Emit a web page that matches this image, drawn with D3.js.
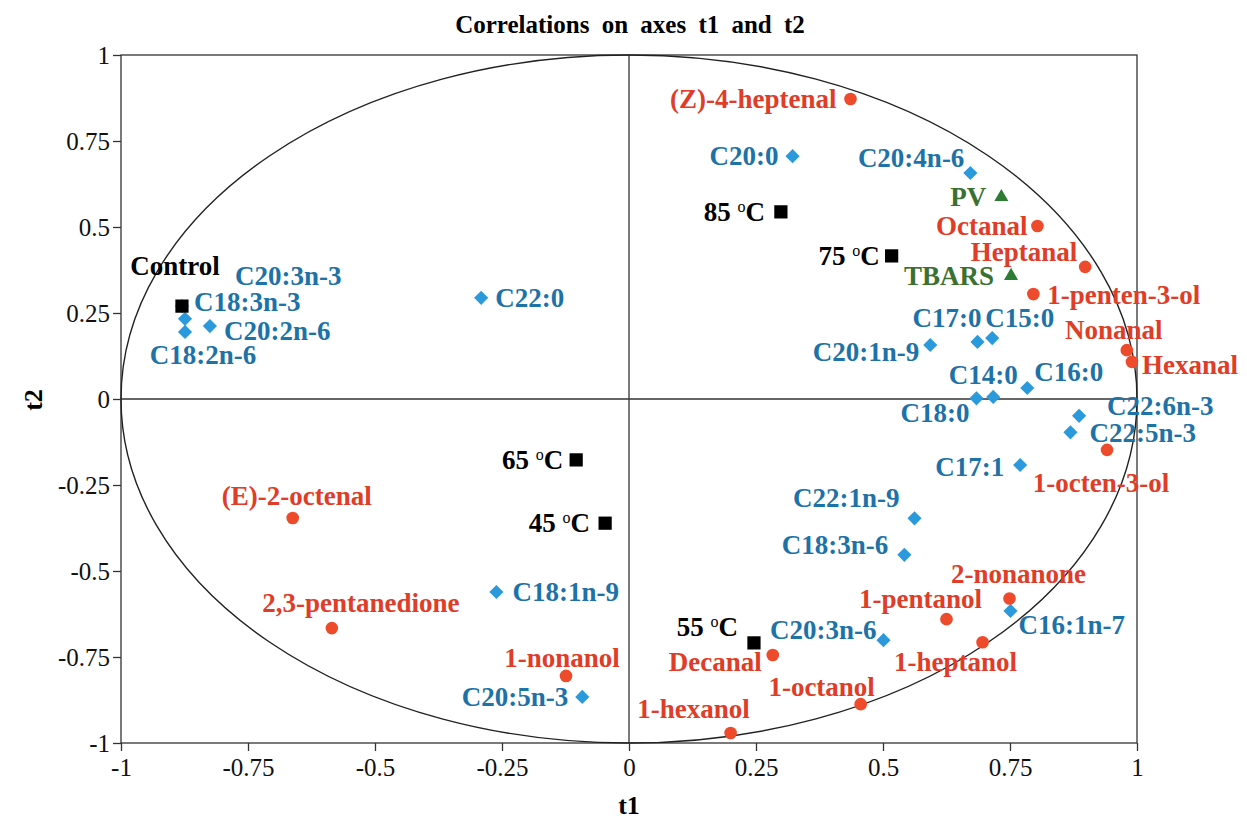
<!DOCTYPE html>
<html>
<head>
<meta charset="utf-8">
<script src="https://cdn.jsdelivr.net/npm/d3@7"></script>
<style>
  body { margin: 0; background: #fff; }
  svg { display: block; font-family: "Liberation Serif", "Times New Roman", serif; }
</style>
</head>
<body>
<svg id="chart" width="1247" height="823"></svg>
<script>
// fatty acids (blue diamonds)
const acidNames = ["C20:0", "C20:4n-6", "C22:0", "C20:3n-3", "C18:3n-3", "C18:2n-6", "C20:2n-6",
  "C17:0", "C15:0", "C20:1n-9", "C16:0", "C14:0", "C18:0", "C22:6n-3", "C22:5n-3", "C17:1",
  "C22:1n-9", "C18:3n-6", "C16:1n-7", "C20:3n-6", "C18:1n-9", "C20:5n-3"];
const acidT1 = [0.322, 0.672, -0.291, -0.880, -0.874, -0.874, -0.825,
  0.686, 0.715, 0.593, 0.784, 0.717, 0.684, 0.886, 0.869, 0.770,
  0.562, 0.542, 0.751, 0.501, -0.261, -0.092];
const acidT2 = [0.706, 0.657, 0.294, 0.270, 0.233, 0.195, 0.212,
  0.166, 0.177, 0.157, 0.032, 0.006, 0.002, -0.049, -0.097, -0.192,
  -0.347, -0.453, -0.616, -0.701, -0.561, -0.866];

// volatile compounds (red circles)
const volNames = ["(Z)-4-heptenal", "Octanal", "Heptanal", "1-penten-3-ol", "Nonanal", "Hexanal",
  "1-octen-3-ol", "2-nonanone", "1-pentanol", "1-heptanol", "Decanal", "1-octanol", "1-hexanol",
  "(E)-2-octenal", "2,3-pentanedione", "1-nonanol"];
const volT1 = [0.436, 0.804, 0.898, 0.796, 0.980, 0.990,
  0.941, 0.749, 0.625, 0.696, 0.283, 0.456, 0.200,
  -0.662, -0.585, -0.124];
const volT2 = [0.872, 0.503, 0.384, 0.305, 0.142, 0.108,
  -0.148, -0.580, -0.640, -0.707, -0.744, -0.887, -0.971,
  -0.346, -0.666, -0.805];

// oxidation indices (green triangles)
const oxNames = ["PV", "TBARS"];
const oxT1 = [0.733, 0.752];
const oxT2 = [0.587, 0.358];

// treatments (black squares)
const trtNames = ["Control", "85", "75", "65", "45", "55"];
const trtT1 = [-0.880, 0.299, 0.517, -0.104, -0.047, 0.246];
const trtT2 = [0.270, 0.544, 0.416, -0.177, -0.361, -0.709];

const tickValues = [-1, -0.75, -0.5, -0.25, 0, 0.25, 0.5, 0.75, 1];

// label placement relative to the marker: [dx, dy, anchor]
const labelPos = {
  "C20:0": [-14, 0, "end"], "C20:4n-6": [-6, -15, "end"], "C22:0": [14, 0, "start"],
  "C20:3n-3": [53, -30, "start"], "C18:3n-3": [9, -17, "start"], "C18:2n-6": [18, 23, "middle"],
  "C20:2n-6": [14, 5, "start"], "C17:0": [4, -24, "end"], "C15:0": [-7, -20, "start"],
  "C20:1n-9": [-11, 7, "end"], "C16:0": [7, -16, "start"], "C14:0": [-10, -22, "middle"],
  "C18:0": [-7, 15, "end"], "C22:6n-3": [28, -10, "start"], "C22:5n-3": [19, 1, "start"],
  "C17:1": [-16, 2, "end"], "C22:1n-9": [-15, -20, "end"], "C18:3n-6": [-16, -10, "end"],
  "C16:1n-7": [8, 14, "start"], "C20:3n-6": [-7, -10, "end"], "C18:1n-9": [16, 0, "start"],
  "C20:5n-3": [-14, 0, "end"],
  "(Z)-4-heptenal": [-14, 0, "end"], "Octanal": [-10, 0, "end"], "Heptanal": [-8, -15, "end"],
  "1-penten-3-ol": [14, 1, "start"], "Nonanal": [-13, -20, "middle"], "Hexanal": [10, 3, "start"],
  "1-octen-3-ol": [-6, 33, "middle"], "2-nonanone": [9, -25, "middle"], "1-pentanol": [-26, -20, "middle"],
  "1-heptanol": [-27, 20, "middle"], "Decanal": [-11, 7, "end"], "1-octanol": [-39, -17, "middle"],
  "1-hexanol": [-37, -24, "middle"], "(E)-2-octenal": [4, -22, "middle"],
  "2,3-pentanedione": [29, -25, "middle"], "1-nonanol": [-4, -18, "middle"],
  "PV": [-15, 0, "end"], "TBARS": [-17, 0, "end"],
  "Control": [-7, -40, "middle"], "85": [-16, 0, "end"], "75": [-12, 0, "end"],
  "65": [-13, 0, "end"], "45": [-15, 0, "end"], "55": [-16, -16, "end"]
};

const svg = d3.select("#chart");
const x = d3.scaleLinear().domain([-1, 1]).range([121, 1137]);
const y = d3.scaleLinear().domain([-1, 1]).range([743, 55]);

// title
svg.append("text")
  .attr("x", 630).attr("y", 33)
  .attr("text-anchor", "middle")
  .attr("font-size", 25).attr("font-weight", "bold")
  .attr("word-spacing", 6)
  .text("Correlations on axes t1 and t2");

// frame
svg.append("rect")
  .attr("x", x(-1)).attr("y", y(1))
  .attr("width", x(1) - x(-1)).attr("height", y(-1) - y(1))
  .attr("fill", "none").attr("stroke", "#333").attr("stroke-width", 1.3);

// zero lines
svg.append("line").attr("x1", x(0)).attr("x2", x(0)).attr("y1", y(1)).attr("y2", y(-1))
  .attr("stroke", "#333").attr("stroke-width", 1.3);
svg.append("line").attr("x1", x(-1)).attr("x2", x(1)).attr("y1", y(0)).attr("y2", y(0))
  .attr("stroke", "#333").attr("stroke-width", 1.3);

// unit circle of correlations
svg.append("ellipse")
  .attr("cx", x(0)).attr("cy", y(0))
  .attr("rx", x(1) - x(0)).attr("ry", y(0) - y(1))
  .attr("fill", "none").attr("stroke", "#222").attr("stroke-width", 1.4);

// axes
const fmt = d => String(d);
const xAxis = svg.append("g")
  .attr("transform", `translate(0,${y(-1)})`)
  .call(d3.axisBottom(x).tickValues(tickValues).tickFormat(fmt).tickSize(8).tickPadding(7));
const yAxis = svg.append("g")
  .attr("transform", `translate(${x(-1)},0)`)
  .call(d3.axisLeft(y).tickValues(tickValues).tickFormat(fmt).tickSize(8).tickPadding(3));
[xAxis, yAxis].forEach(g => {
  g.attr("font-family", null);
  g.select(".domain").remove();
  g.selectAll("line").attr("stroke", "#333").attr("stroke-width", 1.3);
  g.selectAll("text").attr("font-size", 25).attr("fill", "#111");
});

svg.append("text").attr("x", 629).attr("y", 814)
  .attr("text-anchor", "middle").attr("font-size", 26).attr("font-weight", "bold").text("t1");
svg.append("text").attr("transform", "translate(42,400) rotate(-90)")
  .attr("text-anchor", "middle").attr("font-size", 26).attr("font-weight", "bold").text("t2");

// group definitions built from the arrays above
const zip = (names, a, b) => names.map((n, i) => ({ name: n, t1: a[i], t2: b[i] }));
const groups = [
  { data: zip(acidNames, acidT1, acidT2), symbol: d3.symbolSquare, size: 100, rotate: 45, fill: "#2b9adc", text: "#1d72a8", temp: false },
  { data: zip(volNames, volT1, volT2), symbol: d3.symbolCircle, size: 125, rotate: 0, fill: "#ee4a2c", text: "#e03c28", temp: false },
  { data: zip(oxNames, oxT1, oxT2), symbol: d3.symbolTriangle, size: 85, rotate: 0, fill: "#2e7b34", text: "#3b7130", temp: false },
  { data: zip(trtNames, trtT1, trtT2), symbol: d3.symbolSquare, size: 175, rotate: 0, fill: "#000", text: "#000", temp: true }
];

// labels first, markers on top
groups.forEach(gr => {
  const lab = svg.append("g").selectAll("text")
    .data(gr.data).enter().append("text")
    .attr("x", d => x(d.t1) + labelPos[d.name][0])
    .attr("y", d => y(d.t2) + labelPos[d.name][1] + 9)
    .attr("text-anchor", d => labelPos[d.name][2])
    .attr("font-size", 27).attr("font-weight", "bold")
    .attr("fill", gr.text);
  if (gr.temp) {
    lab.each(function (d) {
      const t = d3.select(this);
      if (d.name === "Control") { t.text(d.name); return; }
      t.append("tspan").text(d.name + " ");
      t.append("tspan").attr("font-size", 16).attr("font-weight", "normal").attr("dy", -9).text("o");
      t.append("tspan").attr("dy", 9).text("C");
    });
  } else {
    lab.text(d => d.name);
  }
});

groups.forEach(gr => {
  svg.append("g").selectAll("path")
    .data(gr.data).enter().append("path")
    .attr("d", d3.symbol().type(gr.symbol).size(gr.size))
    .attr("transform", d => `translate(${x(d.t1)},${y(d.t2)}) rotate(${gr.rotate})`)
    .attr("fill", gr.fill);
});
</script>
</body>
</html>
